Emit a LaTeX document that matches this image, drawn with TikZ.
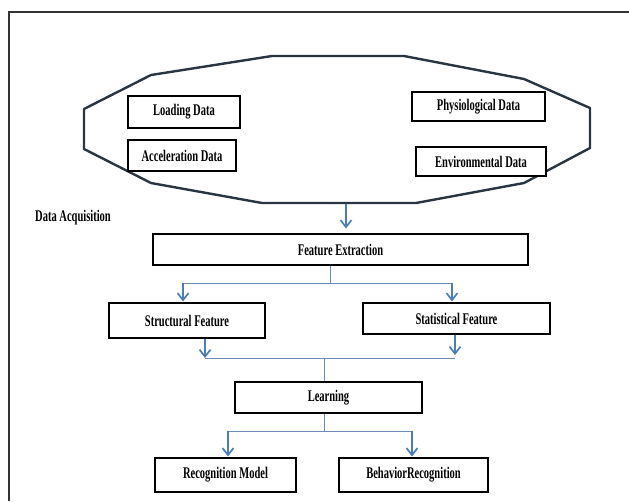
\documentclass[tikz,border=0pt]{standalone}
\usepackage{fontspec}
\setmainfont{Liberation Serif}
\usetikzlibrary{arrows.meta}
\newcommand{\tall}[1]{\scalebox{1}[1.55]{#1}}
\definecolor{arrowblue}{HTML}{4A7EBB}
\definecolor{linkblue}{HTML}{6B8DB5}
\definecolor{octline}{HTML}{2A3542}
\tikzset{
  boxnode/.style={draw=black, line width=1.1pt, fill=white, inner sep=0pt,
    font=\fontsize{10.5}{12}\selectfont\bfseries},
  flowarrow/.style={draw=arrowblue, line width=1.7pt, -{Straight Barb[length=7pt,width=11pt,line width=1.7pt]}},
  linkline/.style={draw=linkblue, line width=1pt},
  labeltext/.style={font=\fontsize{10.5}{12}\selectfont\bfseries, inner sep=0pt}
}
\begin{document}
\begin{tikzpicture}[x=1pt,y=-1pt]
\useasboundingbox (0,0) rectangle (629,501);
% frame
\draw[line width=1.8pt, draw=black!80] (9,501) -- (9,12) -- (629,12);
% octagon
\draw[octline, line width=2.4pt, line join=round]
  (272,56) -- (404,56) -- (524,79) -- (590,108) -- (590,148) -- (524,183)
  -- (416,203) -- (262,203) -- (151,183) -- (84,149) -- (84,109) -- (151,75) -- cycle;
% data boxes
\node[boxnode, minimum width=112pt, minimum height=32pt] (load) at (184,112) {\tall{Loading Data}};
\node[boxnode, minimum width=108pt, minimum height=31pt] (acc) at (182,155.5) {\tall{Acceleration Data}};
\node[boxnode, minimum width=133pt, minimum height=29pt] (phys) at (478.5,106.5) {\tall{Physiological Data}};
\node[boxnode, minimum width=130pt, minimum height=29pt] (env) at (481,161.5) {\tall{Environmental Data}};
\node[labeltext] (acqlabel) at (73,218) {\tall{Data Acquisition}};
\coordinate (acq) at (346,204);
% process boxes
\node[boxnode, minimum width=375pt, minimum height=31pt] (fe) at (340.5,249.5) {\tall{Feature Extraction}};
\node[boxnode, minimum width=156pt, minimum height=35pt] (sf) at (187,320.5) {\tall{Structural Feature}};
\node[boxnode, minimum width=187pt, minimum height=31pt] (stf) at (456.5,318.5) {\tall{Statistical Feature}};
\node[boxnode, minimum width=187pt, minimum height=31pt] (learn) at (328.5,397.5) {\tall{Learning}};
\node[boxnode, minimum width=141pt, minimum height=34pt] (rm) at (225.5,475) {\tall{Recognition Model}};
\node[boxnode, minimum width=149pt, minimum height=34pt] (br) at (413.5,475) {\tall{BehaviorRecognition}};
% junction coordinates
\coordinate (j1) at (330,283);
\coordinate (j1l) at (183,283);
\coordinate (j1r) at (452,283);
\coordinate (j2l) at (205,358);
\coordinate (j2r) at (455,358);
\coordinate (j2) at (324,358);
\coordinate (j3) at (324,431);
\coordinate (j3l) at (228,431);
\coordinate (j3r) at (412,431);
% connectors
\draw[flowarrow, shorten >=5pt] (acq) -- (acq |- fe.north);
\draw[linkline] (fe.south -| j1) -- (j1);
\draw[linkline] (j1l) -- (j1r);
\draw[flowarrow, shorten >=1pt] (j1l) -- (j1l |- sf.north);
\draw[flowarrow, shorten >=1pt] (j1r) -- (j1r |- stf.north);
\draw[flowarrow] (sf.south -| j2l) -- (j2l);
\draw[flowarrow, shorten >=3pt] (stf.south -| j2r) -- (j2r);
\draw[linkline] (j2l) -- (j2r);
\draw[linkline] (j2) -- (j2 |- learn.north);
\draw[linkline] (learn.south -| j3) -- (j3);
\draw[linkline] (j3l) -- (j3r);
\draw[flowarrow, shorten >=1pt] (j3l) -- (j3l |- rm.north);
\draw[flowarrow, shorten >=1pt] (j3r) -- (j3r |- br.north);
\end{tikzpicture}
\end{document}
